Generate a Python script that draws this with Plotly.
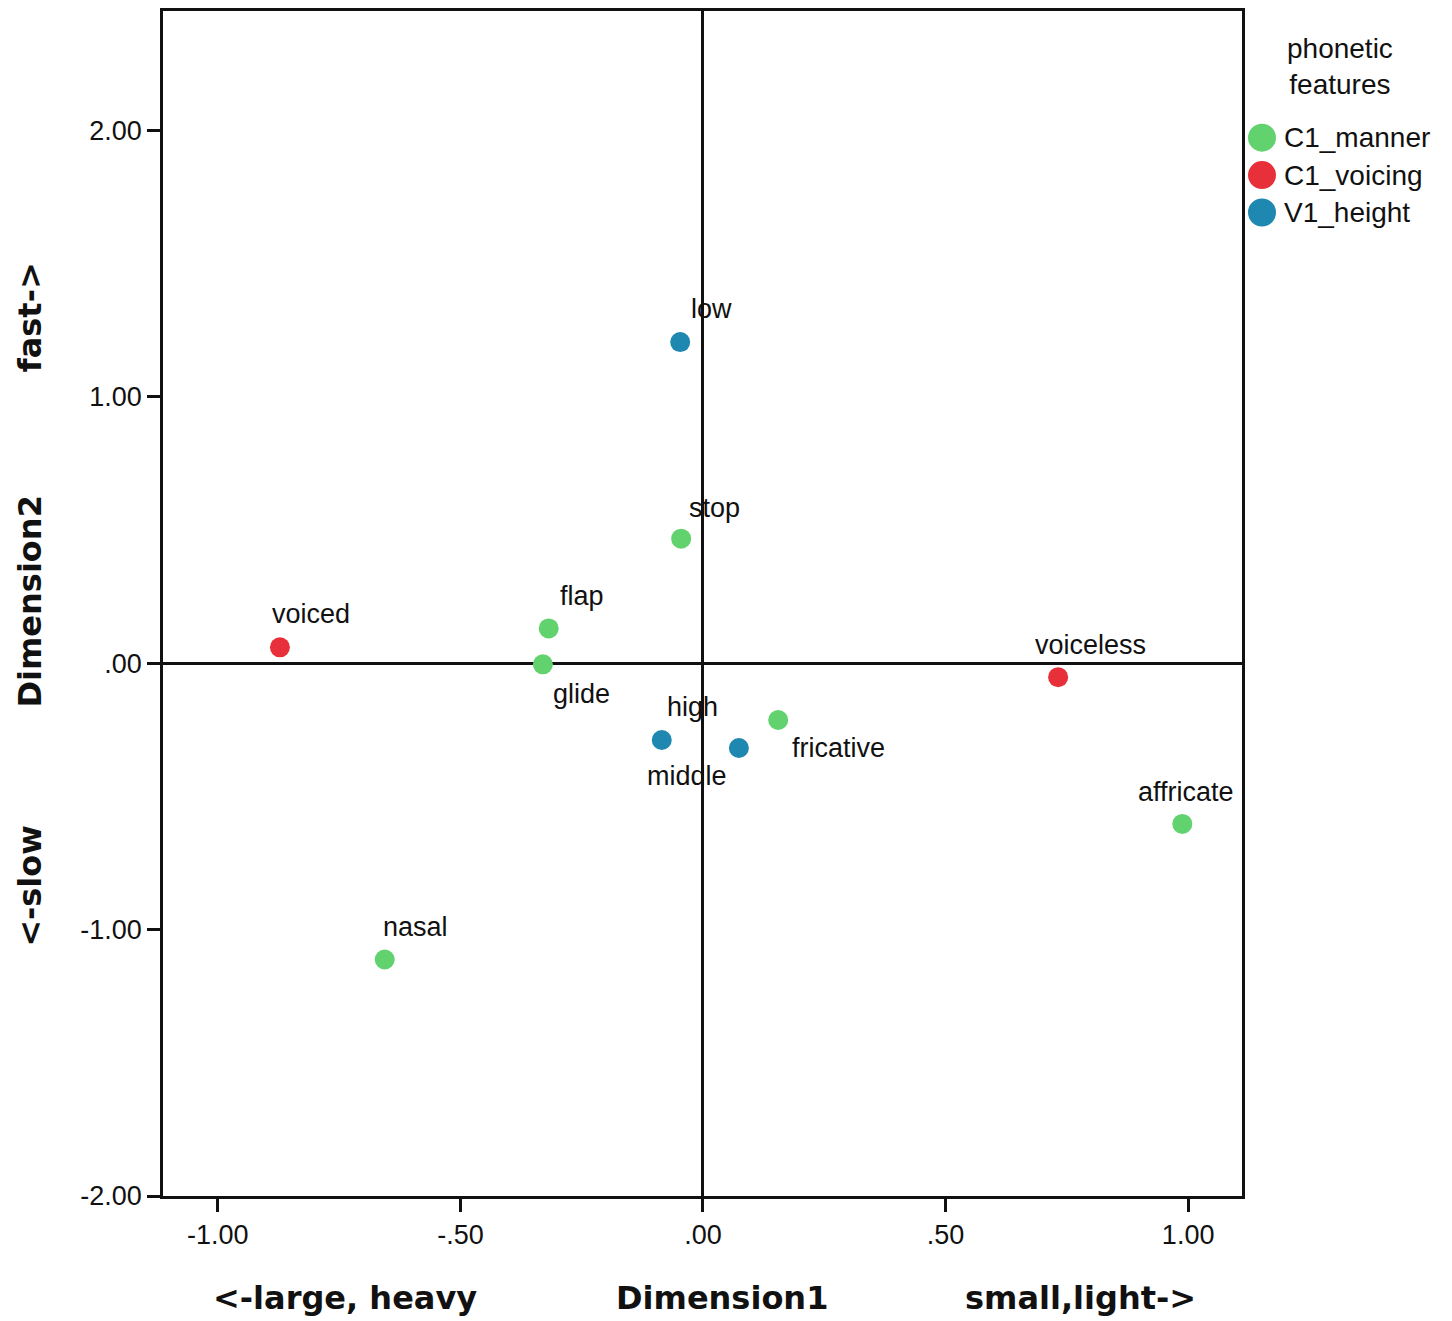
import plotly.graph_objects as go

# ---- data ----
manner_labels = ["stop", "flap", "glide", "fricative", "affricate", "nasal"]
manner_x = [-0.045, -0.318, -0.330, 0.155, 0.988, -0.656]
manner_y = [0.468, 0.131, -0.004, -0.213, -0.603, -1.112]

voicing_labels = ["voiced", "voiceless"]
voicing_x = [-0.872, 0.732]
voicing_y = [0.060, -0.052]

height_labels = ["low", "high", "middle"]
height_x = [-0.047, -0.085, 0.074]
height_y = [1.206, -0.288, -0.318]

x_tick_vals = [-1.0, -0.5, 0.0, 0.5, 1.0]
x_tick_text = ["-1.00", "-.50", ".00", ".50", "1.00"]
y_tick_vals = [-2.0, -1.0, 0.0, 1.0, 2.0]
y_tick_text = ["-2.00", "-1.00", ".00", "1.00", "2.00"]

legend_title = "phonetic<br>features"

# label offsets in pixels (dx, dy with dy positive = up)
label_offsets = {
    "low": (31, 33), "stop": (33, 31), "flap": (33, 32), "glide": (39, -30),
    "voiced": (31, 33), "high": (31, 33), "middle": (-52, -28),
    "fricative": (60, -28), "voiceless": (32, 32), "affricate": (4, 32),
    "nasal": (31, 32),
}

FONT = "Liberation Sans, Arial, sans-serif"
BOLD = "DejaVu Sans, Verdana, sans-serif"

series = [
    ("C1_manner", manner_labels, manner_x, manner_y, "#62d26f"),
    ("C1_voicing", voicing_labels, voicing_x, voicing_y, "#e8303a"),
    ("V1_height", height_labels, height_x, height_y, "#1f88b0"),
]

W, H = 1444, 1313
L, R, T, B = 155, 210, 0, 125
plot_w, plot_h = W - L - R, H - T - B


def px_to_paper(px_x, px_y):
    # screen pixels (page has 8px body offset) -> paper coords
    return (px_x - 8 - L) / plot_w, 1 - (px_y - 8 - T) / plot_h


fig = go.Figure()
annotations = []
shapes = []
for name, labels, xs, ys, color in series:
    fig.add_trace(go.Scatter(
        x=xs, y=ys, mode="markers", name=name, text=labels, showlegend=False,
        marker=dict(size=20, color=color, line=dict(width=0)),
    ))
    for lab, xv, yv in zip(labels, xs, ys):
        dx, dy = label_offsets[lab]
        annotations.append(dict(
            x=xv, y=yv, xref="x", yref="y", text=lab, showarrow=False,
            xshift=dx, yshift=dy, font=dict(family=FONT, size=27, color="#111"),
        ))

# manual legend (larger symbols than plotly's legend allows)
lx, ly = px_to_paper(1340, 64)
annotations.append(dict(x=lx, y=ly, xref="paper", yref="paper", text=legend_title,
                        showarrow=False, xanchor="center", yanchor="middle", align="center",
                        font=dict(family=FONT, size=28, color="#111")))
for i, (name, labels, xs, ys, color) in enumerate(series):
    sy = 135 + i * 37.5
    mx, my = px_to_paper(1262, sy)
    shapes.append(dict(type="circle", xref="paper", yref="paper",
                       xsizemode="pixel", ysizemode="pixel", xanchor=mx, yanchor=my,
                       x0=-14, x1=14, y0=-14, y1=14,
                       fillcolor=color, line=dict(width=0)))
    tx, ty = px_to_paper(1282, sy)
    annotations.append(dict(x=tx, y=ty, xref="paper", yref="paper", text=name,
                            showarrow=False, xanchor="left", yanchor="middle",
                            font=dict(family=FONT, size=28, color="#111")))

# axis titles
title_font = dict(family=BOLD, size=32, color="#111")
for txt, sx in [("&lt;-large, heavy", 345), ("Dimension1", 722), ("small,light-&gt;", 1080)]:
    xp, yp = px_to_paper(sx, 1298)
    annotations.append(dict(x=xp, y=yp, xref="paper", yref="paper", text="<b>%s</b>" % txt,
                            showarrow=False, xanchor="center", yanchor="middle", font=title_font))
for txt, sy in [("fast-&gt;", 315), ("Dimension2", 600), ("&lt;-slow", 885)]:
    xp, yp = px_to_paper(30, sy)
    annotations.append(dict(x=xp, y=yp, xref="paper", yref="paper", text="<b>%s</b>" % txt,
                            showarrow=False, xanchor="center", yanchor="middle", textangle=-90,
                            font=title_font))

axis_common = dict(
    showline=True, linecolor="#111", linewidth=2.5, mirror=True,
    ticks="outside", ticklen=13, tickwidth=2.5, tickcolor="#111",
    showgrid=False, zeroline=True, zerolinecolor="#111", zerolinewidth=2.5,
    tickfont=dict(family=FONT, size=27, color="#111"),
)

fig.update_layout(
    width=W, height=H,
    margin=dict(l=L, r=R, t=T, b=B),
    plot_bgcolor="white", paper_bgcolor="white",
    showlegend=False,
    xaxis=dict(range=[-1.113, 1.111], tickvals=x_tick_vals, ticktext=x_tick_text, **axis_common),
    yaxis=dict(range=[-2.0, 2.449], tickvals=y_tick_vals, ticktext=y_tick_text, **axis_common),
    annotations=annotations,
    shapes=shapes,
)

fig.write_html("out.html")
